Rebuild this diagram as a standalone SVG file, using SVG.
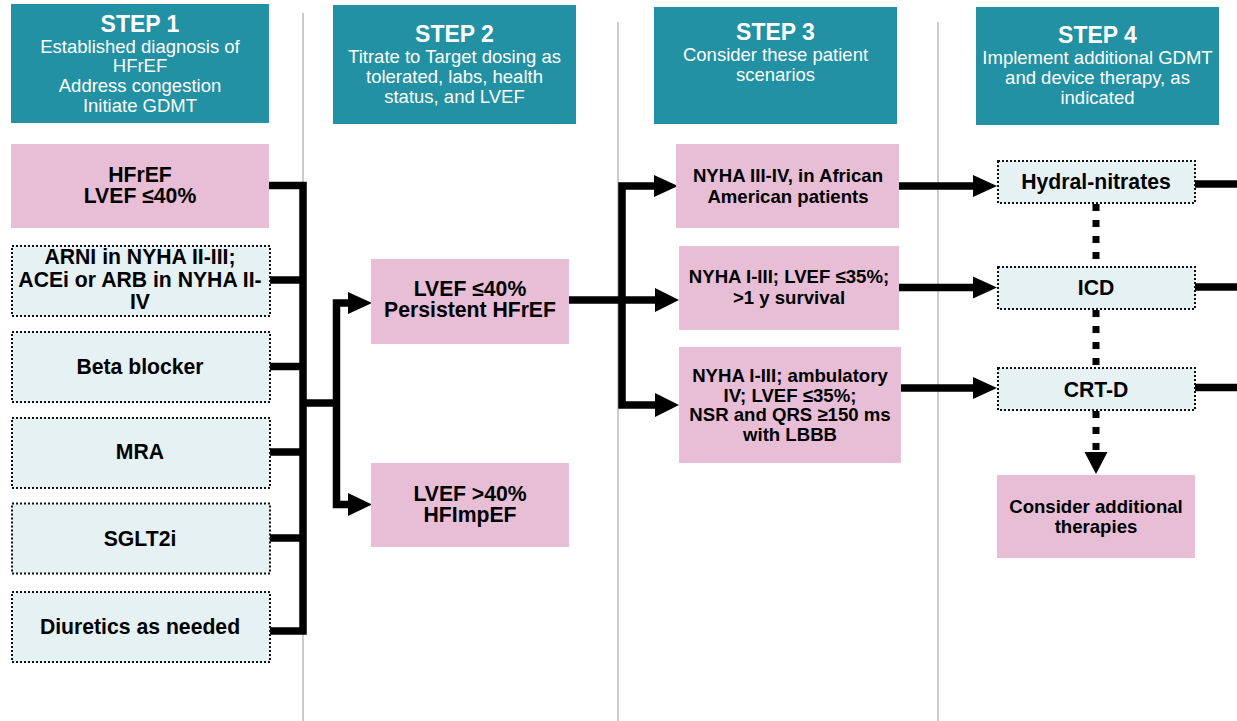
<svg xmlns="http://www.w3.org/2000/svg" width="1237" height="721" viewBox="0 0 1237 721">
<style>
.hdr{fill:#2191A3}
.pink{fill:#E7BED5}
.drug{fill:#E5F1F2;stroke:#111;stroke-width:2;stroke-dasharray:2 2}
.t{font-family:"Liberation Sans",Arial,sans-serif;text-anchor:middle}
.ht{fill:#fff;font-weight:bold;font-size:23px}
.hs{fill:#fff;font-size:18.5px}
.nb{fill:#000;font-weight:bold;font-size:21.2px}
.ns{fill:#000;font-weight:bold;font-size:18.6px}
.div{stroke:#cccccc;stroke-width:2;fill:none}
.ln{stroke:#000;stroke-width:7.5;fill:none;stroke-linejoin:miter;stroke-linecap:butt}
.dot{stroke:#000;stroke-width:7;fill:none;stroke-dasharray:7 9}
.ah{fill:#000}
</style>
<rect width="1237" height="721" fill="#fff"/>
<g id="dividers">
<line class="div" x1="303" y1="13" x2="303" y2="721"/>
<line class="div" x1="618" y1="22" x2="618" y2="721"/>
<line class="div" x1="938" y1="22" x2="938" y2="721"/>
</g>
<g id="connectors">
<path class="ln" d="M269 185.5 H303 V631 H269"/>
<path class="ln" d="M270 280 H303 M270 366.5 H303 M270 452 H303 M270 538 H303"/>
<path class="ln" d="M303 403 H336.5"/>
<path class="ln" d="M350 303 H336.5 V504.5 H350"/>
<polygon class="ah" points="348,292 372,303 348,314"/>
<polygon class="ah" points="348,493 372,504.5 348,516"/>
<path class="ln" d="M569 300 H657"/>
<path class="ln" d="M657 186 H622 V405 H657"/>
<polygon class="ah" points="654,175 678,186 654,197"/>
<polygon class="ah" points="655,288 679,300 655,312"/>
<polygon class="ah" points="655,393 679,405 655,417"/>
<path class="ln" d="M899 186 H975 M899 287.5 H975 M901 388 H975"/>
<polygon class="ah" points="973,175 997,186 973,197"/>
<polygon class="ah" points="973,276.5 997,287.5 973,298.5"/>
<polygon class="ah" points="973,377 997,388 973,399"/>
<path class="ln" d="M1195 184 H1237 M1195 287 H1237 M1195 387.5 H1237"/>
<line class="dot" x1="1096" y1="204" x2="1096" y2="266"/>
<line class="dot" x1="1096" y1="310" x2="1096" y2="367"/>
<line class="dot" x1="1096" y1="411" x2="1096" y2="452"/>
<polygon class="ah" points="1084.5,452 1107.5,452 1096,474"/>
</g>
<g id="step1">
<rect class="hdr" x="11" y="4" width="258" height="119"/>
<text class="t ht" x="140" y="32">STEP 1</text>
<text class="t hs"><tspan x="140" y="53">Established diagnosis of</tspan><tspan x="140" y="72">HFrEF</tspan><tspan x="140" y="92">Address congestion</tspan><tspan x="140" y="112">Initiate GDMT</tspan></text>
</g>
<g id="step2">
<rect class="hdr" x="333" y="5" width="243" height="119"/>
<text class="t ht" x="454.5" y="42">STEP 2</text>
<text class="t hs"><tspan x="454.5" y="63">Titrate to Target dosing as</tspan><tspan x="454.5" y="83">tolerated, labs, health</tspan><tspan x="454.5" y="103">status, and LVEF</tspan></text>
</g>
<g id="step3">
<rect class="hdr" x="654" y="7" width="243" height="117"/>
<text class="t ht" x="775.5" y="40">STEP 3</text>
<text class="t hs"><tspan x="775.5" y="61">Consider these patient</tspan><tspan x="775.5" y="81">scenarios</tspan></text>
</g>
<g id="step4">
<rect class="hdr" x="976" y="7" width="243" height="118"/>
<text class="t ht" x="1097.5" y="43">STEP 4</text>
<text class="t hs"><tspan x="1097.5" y="64">Implement additional GDMT</tspan><tspan x="1097.5" y="84">and device therapy, as</tspan><tspan x="1097.5" y="104">indicated</tspan></text>
</g>
<g id="hfref">
<rect class="pink" x="11" y="144" width="258" height="84"/>
<text class="t nb"><tspan x="140" y="182">HFrEF</tspan><tspan x="140" y="203">LVEF ≤40%</tspan></text>
</g>
<g id="arni">
<rect class="drug" x="12" y="246" width="258" height="70"/>
<text class="t nb"><tspan x="140" y="264">ARNI in NYHA II-III;</tspan><tspan x="140" y="287">ACEi or ARB in NYHA II-</tspan><tspan x="140" y="309">IV</tspan></text>
</g>
<g id="beta">
<rect class="drug" x="12" y="332" width="258" height="70"/>
<text class="t nb" x="140" y="374">Beta blocker</text>
</g>
<g id="mra">
<rect class="drug" x="12" y="418" width="258" height="70"/>
<text class="t nb" x="140" y="459">MRA</text>
</g>
<g id="sglt2i">
<rect class="drug" x="12" y="503.5" width="258" height="70"/>
<text class="t nb" x="140" y="546">SGLT2i</text>
</g>
<g id="diuretics">
<rect class="drug" x="12" y="592" width="258" height="70"/>
<text class="t nb" x="140" y="634">Diuretics as needed</text>
</g>
<g id="persistent">
<rect class="pink" x="371" y="259" width="198" height="85"/>
<text class="t nb"><tspan x="470" y="296">LVEF ≤40%</tspan><tspan x="470" y="317">Persistent HFrEF</tspan></text>
</g>
<g id="hfimpef">
<rect class="pink" x="371" y="463" width="198" height="84"/>
<text class="t nb"><tspan x="470" y="501">LVEF &gt;40%</tspan><tspan x="470" y="522">HFImpEF</tspan></text>
</g>
<g id="african">
<rect class="pink" x="676" y="144" width="223" height="84"/>
<text class="t ns"><tspan x="788" y="182">NYHA III-IV, in African</tspan><tspan x="788" y="203">American patients</tspan></text>
</g>
<g id="nyha13">
<rect class="pink" x="679" y="246" width="220" height="84"/>
<text class="t ns"><tspan x="789" y="283">NYHA I-III; LVEF ≤35%;</tspan><tspan x="789" y="304">&gt;1 y survival</tspan></text>
</g>
<g id="ambulatory">
<rect class="pink" x="679" y="347" width="222" height="116"/>
<text class="t ns"><tspan x="790" y="382">NYHA I-III; ambulatory</tspan><tspan x="790" y="402">IV; LVEF ≤35%;</tspan><tspan x="790" y="421">NSR and QRS ≥150 ms</tspan><tspan x="790" y="441">with LBBB</tspan></text>
</g>
<g id="hydral">
<rect class="drug" x="998" y="161" width="197" height="42"/>
<text class="t nb" x="1096" y="189">Hydral-nitrates</text>
</g>
<g id="icd">
<rect class="drug" x="998" y="267" width="197" height="42"/>
<text class="t nb" x="1096" y="295">ICD</text>
</g>
<g id="crtd">
<rect class="drug" x="998" y="368" width="197" height="42"/>
<text class="t nb" x="1096" y="397">CRT-D</text>
</g>
<g id="additional">
<rect class="pink" x="997" y="475" width="198" height="83"/>
<text class="t ns"><tspan x="1096" y="513">Consider additional</tspan><tspan x="1096" y="533">therapies</tspan></text>
</g>
</svg>
